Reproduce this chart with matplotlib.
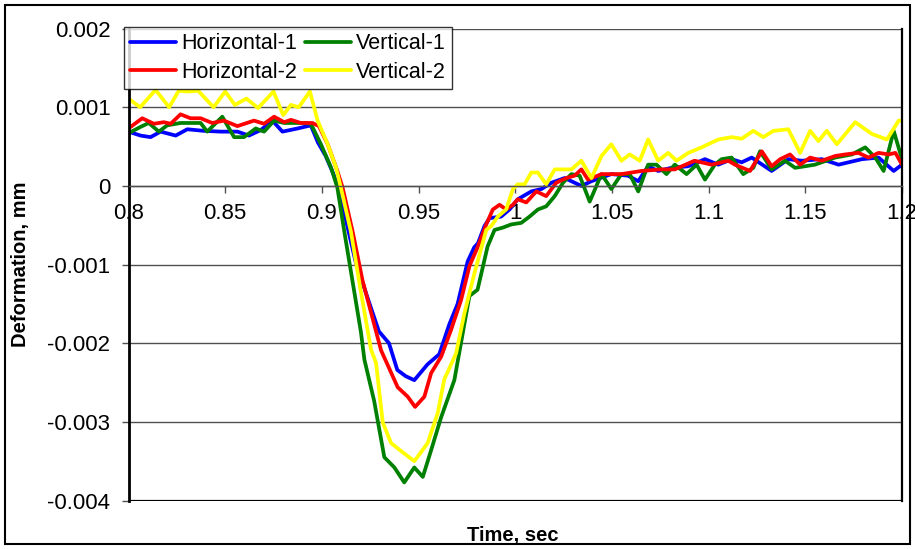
import matplotlib
matplotlib.use("Agg")
import matplotlib.pyplot as plt
from matplotlib.patches import Rectangle

# ---------------- data (time in s, deformation in mm x 1e-3) ----------------
h1_t = [0.8, 0.8062, 0.8114, 0.8166, 0.8244, 0.8304, 0.839, 0.8477, 0.8563, 0.8623,
        0.8684, 0.8744, 0.8796, 0.8874, 0.8943, 0.898, 0.902, 0.906, 0.9085, 0.9174,
        0.924, 0.9295, 0.9347, 0.939, 0.9434, 0.9478, 0.9546, 0.9607, 0.9659, 0.9702,
        0.9754, 0.9788, 0.9807, 0.9841, 0.9867, 0.9927, 0.997, 1.0013, 1.0083, 1.0135,
        1.0187, 1.0255, 1.0342, 1.0394, 1.0497, 1.0583, 1.0636, 1.0687, 1.0739, 1.0808,
        1.0895, 1.0981, 1.105, 1.1119, 1.1171, 1.1223, 1.1326, 1.1412, 1.1482, 1.1585,
        1.1672, 1.1793, 1.1879, 1.1957, 1.2]
h1_v = [0.69, 0.64, 0.62, 0.69, 0.64, 0.72, 0.70, 0.69, 0.69, 0.64,
        0.71, 0.83, 0.69, 0.73, 0.77, 0.55, 0.38, 0.15, -0.02, -0.96,
        -1.45, -1.85, -2.0, -2.34, -2.42, -2.47, -2.27, -2.14, -1.76, -1.50,
        -0.96, -0.78, -0.73, -0.51, -0.41, -0.39, -0.30, -0.17, -0.07, -0.04,
        0.04, 0.10, 0.0, 0.06, 0.15, 0.13, 0.06, 0.25, 0.19, 0.23,
        0.25, 0.34, 0.27, 0.34, 0.30, 0.36, 0.19, 0.34, 0.32, 0.34,
        0.27, 0.34, 0.36, 0.19, 0.27]

h2_t = [0.8, 0.8071, 0.8131, 0.8183, 0.8218, 0.8269, 0.8321, 0.8373, 0.8433, 0.8494,
        0.8563, 0.8649, 0.8701, 0.8753, 0.8805, 0.884, 0.8891, 0.8951, 0.8985, 0.903,
        0.908, 0.9107, 0.9159, 0.921, 0.9237, 0.9306, 0.9392, 0.9444, 0.9482, 0.953,
        0.9565, 0.9617, 0.9668, 0.972, 0.9763, 0.9807, 0.985, 0.9884, 0.9919, 0.9953,
        0.9988, 1.0013, 1.0057, 1.0109, 1.016, 1.0212, 1.0264, 1.0307, 1.0342, 1.0376,
        1.0446, 1.0549, 1.0653, 1.0756, 1.0825, 1.0927, 1.1016, 1.1102, 1.1136, 1.1214,
        1.1275, 1.1326, 1.137, 1.1421, 1.1473, 1.1525, 1.1585, 1.1654, 1.1706, 1.1775,
        1.1827, 1.1879, 1.1931, 1.1966, 1.2]
h2_v = [0.73, 0.86, 0.79, 0.81, 0.79, 0.91, 0.86, 0.86, 0.80, 0.83,
        0.76, 0.83, 0.79, 0.88, 0.81, 0.84, 0.80, 0.80, 0.76, 0.53,
        0.19, -0.02, -0.58, -1.20, -1.45, -2.09, -2.56, -2.68, -2.81, -2.68,
        -2.38, -2.17, -1.83, -1.45, -1.02, -0.77, -0.49, -0.30, -0.24, -0.30,
        -0.24, -0.17, -0.21, -0.07, -0.13, 0.04, 0.10, 0.13, 0.21, 0.08,
        0.15, 0.15, 0.19, 0.21, 0.21, 0.32, 0.27, 0.32, 0.27, 0.19,
        0.44, 0.25, 0.34, 0.40, 0.27, 0.36, 0.32, 0.38, 0.40, 0.42,
        0.36, 0.42, 0.40, 0.42, 0.27]

v1_t = [0.8, 0.8062, 0.8105, 0.8157, 0.82, 0.8269, 0.8373, 0.8407, 0.8485, 0.8546,
        0.8597, 0.8658, 0.8701, 0.8753, 0.8805, 0.8908, 0.8943, 0.8995, 0.9047, 0.908,
        0.9116, 0.9159, 0.9202, 0.922, 0.927, 0.9323, 0.9375, 0.9426, 0.9478, 0.9522,
        0.9565, 0.9617, 0.9685, 0.9763, 0.9805, 0.9857, 0.9893, 0.9936, 0.9979, 1.0031,
        1.0074, 1.0117, 1.016, 1.0204, 1.0247, 1.029, 1.0333, 1.0385, 1.0446, 1.0497,
        1.0549, 1.0592, 1.0636, 1.0687, 1.073, 1.0782, 1.0825, 1.0886, 1.0938, 1.0981,
        1.1032, 1.1067, 1.1119, 1.1179, 1.1231, 1.1266, 1.1326, 1.1395, 1.1447, 1.155,
        1.1654, 1.1741, 1.181, 1.1862, 1.1905, 1.1957, 1.2]
v1_v = [0.67, 0.75, 0.80, 0.69, 0.77, 0.80, 0.80, 0.69, 0.88, 0.62,
        0.62, 0.73, 0.69, 0.83, 0.80, 0.80, 0.79, 0.53, 0.235, -0.02,
        -0.58, -1.22, -1.86, -2.21, -2.73, -3.45, -3.58, -3.77, -3.58, -3.70,
        -3.36, -2.94, -2.47, -1.40, -1.32, -0.77, -0.56, -0.53, -0.49, -0.47,
        -0.39, -0.30, -0.26, -0.13, 0.04, 0.15, 0.13, -0.20, 0.15, -0.04,
        0.15, 0.15, -0.07, 0.27, 0.27, 0.15, 0.27, 0.15, 0.27, 0.08,
        0.27, 0.34, 0.36, 0.15, 0.23, 0.44, 0.21, 0.32, 0.23, 0.27,
        0.36, 0.40, 0.49, 0.36, 0.19, 0.70, 0.34]

v2_t = [0.8, 0.806, 0.814, 0.821, 0.826, 0.831, 0.836, 0.844, 0.85, 0.855,
        0.861, 0.867, 0.875, 0.88, 0.884, 0.888, 0.8938, 0.8978, 0.903, 0.9073,
        0.9098, 0.915, 0.9202, 0.9254, 0.928, 0.9315, 0.9358, 0.9409, 0.9478, 0.9547,
        0.9599, 0.9633, 0.9694, 0.9737, 0.9789, 0.985, 0.9876, 0.991, 0.9953, 0.9988,
        1.0013, 1.0048, 1.0083, 1.0117, 1.016, 1.0204, 1.0247, 1.029, 1.0342, 1.0394,
        1.0446, 1.0497, 1.0549, 1.0592, 1.0644, 1.0687, 1.0739, 1.0791, 1.0834, 1.0895,
        1.0964, 1.105, 1.1119, 1.1171, 1.1231, 1.1283, 1.1335, 1.1412, 1.1473, 1.1525,
        1.1568, 1.1611, 1.1663, 1.1758, 1.1845, 1.1922, 1.1983, 1.2]
v2_v = [1.11, 1.0, 1.22, 1.0, 1.21, 1.20, 1.21, 1.0, 1.2, 1.03,
        1.11, 0.99, 1.2, 0.9, 1.03, 1.0, 1.2, 0.83, 0.53, 0.235,
        -0.02, -0.58, -1.35, -2.08, -2.25, -3.01, -3.27, -3.37, -3.50, -3.27,
        -2.89, -2.46, -2.13, -1.62, -1.11, -0.56, -0.51, -0.39, -0.30, -0.04,
        0.02, 0.02, 0.17, 0.17, 0.02, 0.21, 0.21, 0.21, 0.32, 0.10,
        0.38, 0.53, 0.32, 0.40, 0.32, 0.59, 0.32, 0.42, 0.32, 0.42,
        0.49, 0.59, 0.62, 0.60, 0.70, 0.62, 0.70, 0.72, 0.42, 0.70,
        0.57, 0.70, 0.53, 0.81, 0.66, 0.59, 0.83, 0.83]

labels = ["Horizontal-1", "Vertical-1", "Horizontal-2", "Vertical-2"]
x_ticks = [0.8, 0.85, 0.9, 0.95, 1.0, 1.05, 1.1, 1.15, 1.2]
x_tick_labels = ["0.8", "0.85", "0.9", "0.95", "1", "1.05", "1.1", "1.15", "1.2"]
y_ticks = [-0.004, -0.003, -0.002, -0.001, 0.0, 0.001, 0.002]
y_tick_labels = ["-0.004", "-0.003", "-0.002", "-0.001", "0", "0.001", "0.002"]

# ---------------- figure ----------------
plt.rcParams['font.family'] = ['Liberation Sans', 'DejaVu Sans']
W, H = 915, 549
fig = plt.figure(figsize=(W / 100, H / 100), dpi=100)
fig.patches.append(Rectangle((5 / W, 5 / H), (W - 10) / W, (H - 10) / H,
                             transform=fig.transFigure, fill=False,
                             edgecolor='black', linewidth=1.5))

ax = fig.add_axes([128.5 / W, 1 - 500.5 / H, (902 - 128.5) / W, (500.5 - 28.6) / H])

sc = 1e-3
lw = 2.7
series = [
    (h1_t, h1_v, '#0000FF', labels[0]),
    (v1_t, v1_v, '#008000', labels[1]),
    (h2_t, h2_v, '#FF0000', labels[2]),
    (v2_t, v2_v, '#FFFF00', labels[3]),
]
handles = {}
for t, v, c, lab in series:
    ln, = ax.plot(t, [val * sc for val in v], color=c, lw=lw, label=lab,
                  solid_joinstyle='round', solid_capstyle='round', zorder=2)
    handles[lab] = ln

ax.set_xlim(0.8, 1.2)
ax.set_ylim(-0.004, 0.002)

# horizontal gridlines
for yv in y_ticks:
    ax.axhline(yv, color='#505050', lw=1.0, zorder=1)
ax.axhline(-0.004, color='black', lw=1.6, zorder=3)

ax.set_yticks(y_ticks)
ax.set_yticklabels(y_tick_labels)
ax.set_xticks(x_ticks)
ax.set_xticklabels(x_tick_labels)

ax.spines['bottom'].set_position(('data', 0))
ax.spines['bottom'].set_color('#505050')
ax.spines['bottom'].set_linewidth(1.0)
ax.spines['top'].set_visible(False)
ax.spines['left'].set_color('black')
ax.spines['left'].set_linewidth(2.0)
ax.spines['right'].set_color('black')
ax.spines['right'].set_linewidth(1.6)

ax.tick_params(axis='y', direction='out', length=5, width=1, color='#505050',
               pad=8, labelsize=16)
ax.tick_params(axis='x', direction='out', length=5, width=1, color='#505050',
               pad=7, labelsize=16)

ax.set_ylabel("Deformation, mm", fontsize=14.5, fontweight='bold')
ax.yaxis.set_label_coords(-0.127, 0.5)
fig.text(513 / W, 1 - 535 / H, "Time, sec", fontsize=14.5, fontweight='bold',
         ha='center', va='center')

# ncol=2 fills column-wise: col1 = H1, H2 ; col2 = V1, V2
leg_handles = [handles["Horizontal-1"], handles["Horizontal-2"],
               handles["Vertical-1"], handles["Vertical-2"]]
leg_labels = ["Horizontal-1", "Horizontal-2", "Vertical-1", "Vertical-2"]
leg = ax.legend(leg_handles, leg_labels, ncol=2, loc='upper left',
                bbox_to_anchor=(-0.006, 1.004), borderaxespad=0,
                fontsize=15.5, frameon=True, fancybox=False, edgecolor='black',
                handlelength=2.1, handletextpad=0.25, columnspacing=0.4,
                labelspacing=0.35, borderpad=0.3)
leg.get_frame().set_linewidth(1.0)
leg.set_zorder(6)

fig.savefig("out.png", dpi=100)
